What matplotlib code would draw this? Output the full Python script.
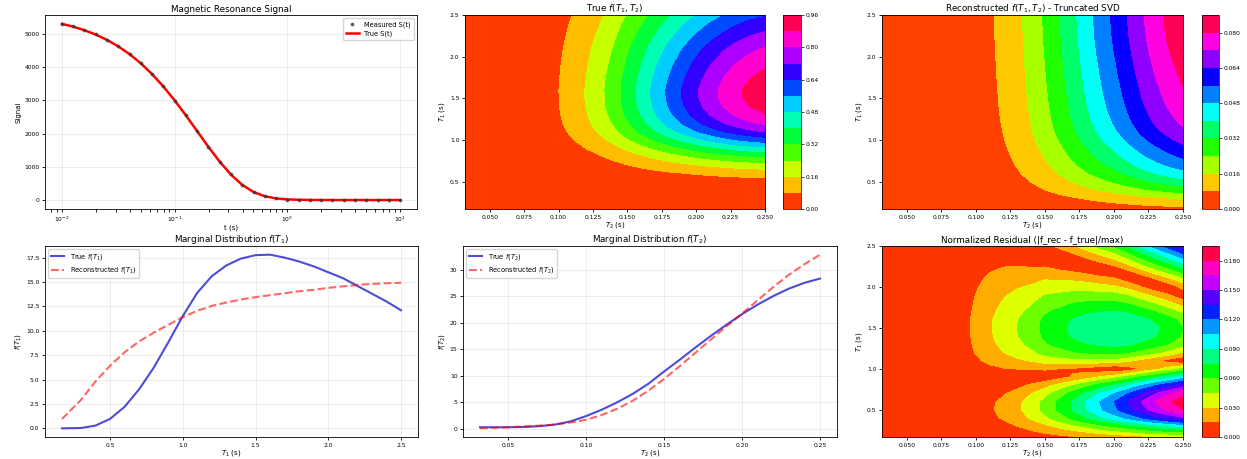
import numpy as np
import matplotlib
matplotlib.use("Agg")
import matplotlib.pyplot as plt
from matplotlib.ticker import FormatStrFormatter

# ---------------- data ----------------
# Magnetic resonance signal (log-spaced times, 0.1 decade steps)
t_s = [0.01000, 0.01259, 0.01585, 0.01995, 0.02512, 0.03162, 0.03981, 0.05012,
       0.06310, 0.07943, 0.1000, 0.1259, 0.1585, 0.1995, 0.2512, 0.3162,
       0.3981, 0.5012, 0.6310, 0.7943, 1.000, 1.259, 1.585, 1.995, 2.512,
       3.162, 3.981, 5.012, 6.310, 7.943, 10.00]
S_true = [5300, 5214, 5107, 4977, 4816, 4622, 4388, 4112, 3787, 3415, 2998,
          2545, 2071, 1597, 1152, 763, 455, 240, 115, 48, 20, 8, 3, 1, 0,
          0, 0, 0, 0, 0, 0]
S_meas = [5296, 5220, 5101, 4983, 4810, 4628, 4381, 4118, 3780, 3421, 2992,
          2551, 2064, 1603, 1146, 769, 449, 246, 109, 54, 14, 12, -2, 5, -3,
          2, -4, 3, -1, 4, -2]

# Marginal distribution over T1
T1 = [0.17, 0.3, 0.4, 0.5, 0.6, 0.7, 0.8, 0.9, 1.0, 1.1, 1.2, 1.3, 1.4, 1.5,
      1.6, 1.7, 1.8, 1.9, 2.0, 2.1, 2.2, 2.3, 2.4, 2.5]
fT1_true = [0.0, 0.03, 0.28, 0.96, 2.2, 4.0, 6.2, 8.8, 11.5, 13.9, 15.6, 16.7,
            17.4, 17.75, 17.8, 17.5, 17.1, 16.6, 16.0, 15.4, 14.6, 13.8, 13.0, 12.1]
fT1_rec = [0.96, 2.9, 4.8, 6.4, 7.8, 8.9, 9.8, 10.6, 11.4, 12.05, 12.55, 12.9,
           13.2, 13.45, 13.65, 13.85, 14.05, 14.2, 14.4, 14.55, 14.7, 14.8, 14.87, 14.92]

# Marginal distribution over T2
T2 = [0.032, 0.04, 0.05, 0.06, 0.07, 0.08, 0.09, 0.10, 0.11, 0.12, 0.13, 0.14,
      0.15, 0.16, 0.17, 0.18, 0.19, 0.20, 0.21, 0.22, 0.23, 0.24, 0.25]
fT2_true = [0.3, 0.3, 0.3, 0.35, 0.5, 0.8, 1.4, 2.4, 3.6, 5.0, 6.6, 8.5, 10.8,
            13.0, 15.3, 17.5, 19.6, 21.6, 23.4, 25.0, 26.4, 27.5, 28.3]
fT2_rec = [0.1, 0.2, 0.3, 0.45, 0.6, 0.8, 1.2, 1.7, 2.6, 3.8, 5.3, 7.2, 9.4,
           11.8, 14.3, 16.8, 19.3, 21.7, 24.2, 26.7, 29.0, 31.0, 32.8]

# peak values of the 2D maps and their contour level tops
peak_true, top_true, n_true = 0.93, 0.96, 13
peak_rec, top_rec, n_rec = 0.087, 0.088, 12
peak_res, top_res, n_res = 0.19, 0.195, 14

# ---------------- derived 2D maps ----------------
G_true = np.outer(fT1_true, fT2_true)
G_rec = np.outer(fT1_rec, fT2_rec)
F_true = G_true / G_true.max() * peak_true
F_rec = G_rec / G_rec.max() * peak_rec
D = np.abs(G_rec - G_true)
F_res = D / D.max() * peak_res

# ---------------- figure ----------------
W, H = 1247, 459
fig = plt.figure(figsize=(W / 100, H / 100), dpi=100)


def box(x0, y0, x1, y1):
    return [x0 / W, 1 - y1 / H, (x1 - x0) / W, (y1 - y0) / H]


TS, LS, TT, LG = 4.3, 5, 6.3, 4.8


def style(ax):
    ax.tick_params(labelsize=TS, length=2.5, width=0.6, pad=1.5)
    for s in ax.spines.values():
        s.set_linewidth(0.6)


TOP = (15, 209)
BOT = (246, 437)

# Signal
ax1 = fig.add_axes(box(45, TOP[0], 417, TOP[1]))
ax1.semilogx(t_s, S_true, color='red', lw=1.8, label='True S(t)', zorder=2)
ax1.semilogx(t_s, S_meas, '.', color='#3a3a3a', ms=3.5, alpha=0.7,
             label='Measured S(t)', zorder=3)
h, l = ax1.get_legend_handles_labels()
ax1.legend(h[::-1], l[::-1], loc='upper right', fontsize=LG)
ax1.set_title('Magnetic Resonance Signal', fontsize=TT, pad=2)
ax1.set_xlabel('t (s)', fontsize=LS, labelpad=0.5)
ax1.set_ylabel('Signal', fontsize=LS, labelpad=2)
ax1.grid(True, alpha=0.3, lw=0.5)
style(ax1)


def heat(ax_box, cb_box, F, top, n, title, fmt):
    ax = fig.add_axes(box(*ax_box))
    cax = fig.add_axes(box(*cb_box))
    levels = np.linspace(0, top, n)
    cs = ax.contourf(T2, T1, F, levels=levels, cmap='hsv')
    cb = fig.colorbar(cs, cax=cax)
    cb.outline.set_linewidth(0.5)
    cb.ax.tick_params(labelsize=TS, length=2, width=0.5, pad=1.5)
    cb.ax.yaxis.set_major_formatter(FormatStrFormatter(fmt))
    ax.set_title(title, fontsize=TT, pad=2)
    ax.set_xlabel('$T_2$ (s)', fontsize=LS, labelpad=0.5)
    ax.set_ylabel('$T_1$ (s)', fontsize=LS, labelpad=2)
    ax.set_xticks([0.05, 0.075, 0.1, 0.125, 0.15, 0.175, 0.2, 0.225, 0.25])
    ax.xaxis.set_major_formatter(FormatStrFormatter('%.3f'))
    style(ax)
    return ax


heat((465, TOP[0], 765, TOP[1]), (783, TOP[0], 801, TOP[1]), F_true,
     top_true, n_true, 'True $f(T_1, T_2)$', '%.2f')
heat((882, TOP[0], 1183, TOP[1]), (1202, TOP[0], 1219, TOP[1]), F_rec,
     top_rec, n_rec, 'Reconstructed $f(T_1, T_2)$ - Truncated SVD', '%.3f')
heat((882, BOT[0], 1183, BOT[1]), (1202, BOT[0], 1219, BOT[1]), F_res,
     top_res, n_res, 'Normalized Residual (|f_rec - f_true|/max)', '%.3f')

# Marginal T1
ax4 = fig.add_axes(box(45, BOT[0], 418, BOT[1]))
ax4.plot(T1, fT1_true, color='#2020d0', lw=1.5, alpha=0.8, label='True $f(T_1)$')
ax4.plot(T1, fT1_rec, '--', color='red', lw=1.5, alpha=0.6,
         label='Reconstructed $f(T_1)$')
ax4.set_title('Marginal Distribution $f(T_1)$', fontsize=TT, pad=2)
ax4.set_xlabel('$T_1$ (s)', fontsize=LS, labelpad=0.5)
ax4.set_ylabel('$f(T_1)$', fontsize=LS, labelpad=2)
ax4.legend(loc='upper left', fontsize=LG)
ax4.grid(True, alpha=0.3, lw=0.5)
style(ax4)

# Marginal T2
ax5 = fig.add_axes(box(463, BOT[0], 837, BOT[1]))
ax5.plot(T2, fT2_true, color='#2020d0', lw=1.5, alpha=0.8, label='True $f(T_2)$')
ax5.plot(T2, fT2_rec, '--', color='red', lw=1.5, alpha=0.6,
         label='Reconstructed $f(T_2)$')
ax5.set_title('Marginal Distribution $f(T_2)$', fontsize=TT, pad=2)
ax5.set_xlabel('$T_2$ (s)', fontsize=LS, labelpad=0.5)
ax5.set_ylabel('$f(T_2)$', fontsize=LS, labelpad=2)
ax5.legend(loc='upper left', fontsize=LG)
ax5.grid(True, alpha=0.3, lw=0.5)
style(ax5)

fig.savefig('out.png', dpi=100)
